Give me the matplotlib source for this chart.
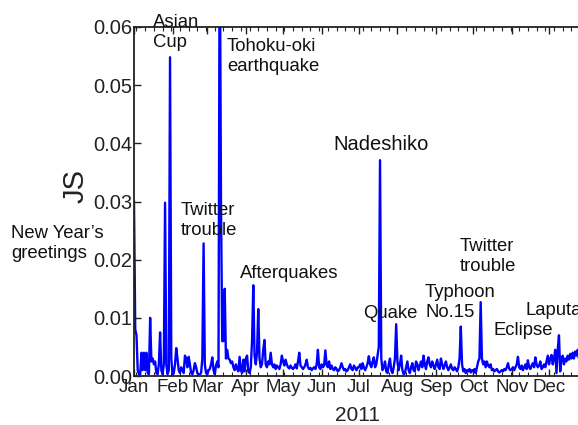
import numpy as np
import pandas as pd
import matplotlib
matplotlib.use('Agg')
import matplotlib.pyplot as plt
import matplotlib.dates as mdates
from matplotlib.ticker import FormatStrFormatter

plt.rcParams['font.family'] = ['Liberation Sans', 'DejaVu Sans']

# daily JS values for 2011, in units of 1e-4
jan = [300, 80, 70, 10, 3, 3, 40, 10, 40, 10, 40, 5, 3, 100, 25, 30, 20, 25, 5, 3,
       20, 75, 10, 3, 20, 298, 20, 3, 10, 548, 30]
feb = [3, 5, 20, 48, 30, 10, 5, 15, 10, 5, 35, 30, 15, 33, 20, 5, 3, 10, 22, 15,
       5, 3, 3, 5, 30, 228, 20, 5]
mar = [3, 10, 12, 20, 32, 10, 3, 18, 25, 15, 800, 300, 60, 60, 150, 30, 45, 30, 28, 22,
       25, 15, 10, 20, 12, 8, 33, 10, 5, 28, 8]
apr = [30, 35, 8, 5, 15, 60, 156, 35, 20, 40, 115, 30, 15, 20, 45, 62, 20, 15, 25, 20,
       40, 20, 15, 20, 12, 18, 15, 12, 20, 35]
may = [25, 18, 28, 20, 15, 13, 18, 14, 12, 15, 20, 13, 25, 40, 18, 15, 12, 15, 20, 28,
       15, 12, 14, 10, 13, 15, 12, 20, 45, 15, 12]
jun = [20, 15, 18, 44, 20, 15, 25, 12, 18, 12, 10, 15, 12, 8, 10, 15, 22, 15, 10, 12,
       8, 10, 15, 20, 12, 10, 18, 14, 10, 15]
jul = [15, 20, 12, 22, 15, 10, 15, 22, 34, 20, 15, 25, 32, 15, 20, 35, 50, 371, 30, 10,
       15, 25, 8, 5, 20, 30, 10, 5, 15, 30, 89]
aug = [25, 10, 20, 35, 10, 3, 5, 15, 25, 10, 5, 15, 22, 10, 8, 25, 20, 10, 18, 25,
       15, 35, 20, 12, 25, 32, 20, 15, 25, 18, 12]
sep = [20, 28, 15, 12, 30, 20, 12, 18, 25, 15, 10, 15, 20, 12, 10, 15, 12, 8, 15, 30,
       85, 20, 8, 12, 5, 10, 8, 12, 6, 10]
oct_ = [8, 12, 5, 15, 25, 30, 127, 30, 20, 25, 15, 25, 18, 15, 20, 10, 12, 8, 10, 12,
        8, 6, 8, 10, 8, 12, 10, 15, 22, 12, 10]
nov = [12, 15, 10, 15, 20, 33, 15, 12, 18, 10, 15, 20, 12, 27, 15, 12, 18, 22, 15, 32,
       20, 15, 18, 25, 12, 15, 20, 15, 25, 35]
dec = [20, 30, 36, 20, 30, 45, 5, 45, 70, 8, 30, 35, 20, 30, 25, 35, 28, 38, 30, 40,
       30, 42, 35, 45, 30, 35, 40, 30, 35, 40, 30]

js = np.array(jan + feb + mar + apr + may + jun + jul + aug + sep + oct_ + nov + dec) / 1e4
dates = pd.date_range('2011-01-01', periods=len(js), freq='D')

# event labels: (text, day of year offset, JS level of last baseline, size)
events = [
    ('Asian\nCup', 15.3, 0.0566, 13.3),
    ('Tohoku-oki\nearthquake', 74.9, 0.0524, 13.3),
    ('Twitter\ntrouble', 37.8, 0.0242, 13.3),
    ('New Year\u2019s\ngreetings', -99.0, 0.0203, 13.3),
    ('Afterquakes', 85.3, 0.0168, 13.3),
    ('Nadeshiko', 160.2, 0.0388, 14.5),
    ('Quake', 184.3, 0.0100, 13.3),
    ('Typhoon\nNo.15', 234.2, 0.0101, 13.3),
    ('Twitter\ntrouble', 262.4, 0.0180, 13.3),
    ('Laputa', 314.7, 0.0105, 13.3),
    ('Eclipse', 289.0, 0.0070, 13.3),
]

fig = plt.figure(figsize=(5.78, 4.25), dpi=100)
ax = fig.add_axes([134/578, 49/425, 452.3/578, 349/425])

ax.plot(dates, js, color='#0000ff', lw=1.7)

start = pd.Timestamp('2011-01-01')
ax.set_xlim(start, pd.Timestamp('2011-12-31'))
ax.set_ylim(0, 0.06)

ax.xaxis.set_major_locator(mdates.MonthLocator())
ax.xaxis.set_major_formatter(mdates.DateFormatter('%b'))
ax.xaxis.set_minor_locator(mdates.WeekdayLocator(byweekday=mdates.MO))
ax.yaxis.set_major_formatter(FormatStrFormatter('%.2f'))
ax.set_yticks([0, 0.01, 0.02, 0.03, 0.04, 0.05, 0.06])

ax.tick_params(axis='x', which='both', direction='in', top=True, bottom=True,
               labelsize=13.5, pad=2, colors='#222222')
ax.tick_params(axis='x', which='major', length=5, width=1)
ax.tick_params(axis='x', which='minor', length=3, width=0.8)
ax.tick_params(axis='y', which='major', direction='in', length=5, width=1,
               labelsize=14.5, pad=1, colors='#222222', right=False)

for s in ax.spines.values():
    s.set_linewidth(1.3)
    s.set_color('#222222')

ax.set_ylabel('JS', fontsize=21, color='#222222')
ax.yaxis.set_label_coords(-0.098, 0.545)
ax.set_xlabel('2011', fontsize=15, color='#222222')
ax.xaxis.set_label_coords(0.495, -0.087)

for txt, day, level, size in events:
    ax.text(start + pd.Timedelta(days=day), level, txt, fontsize=size,
            ha='left', va='baseline', linespacing=1.22, color='#111111',
            clip_on=False)

fig.savefig('out.png', dpi=100)
